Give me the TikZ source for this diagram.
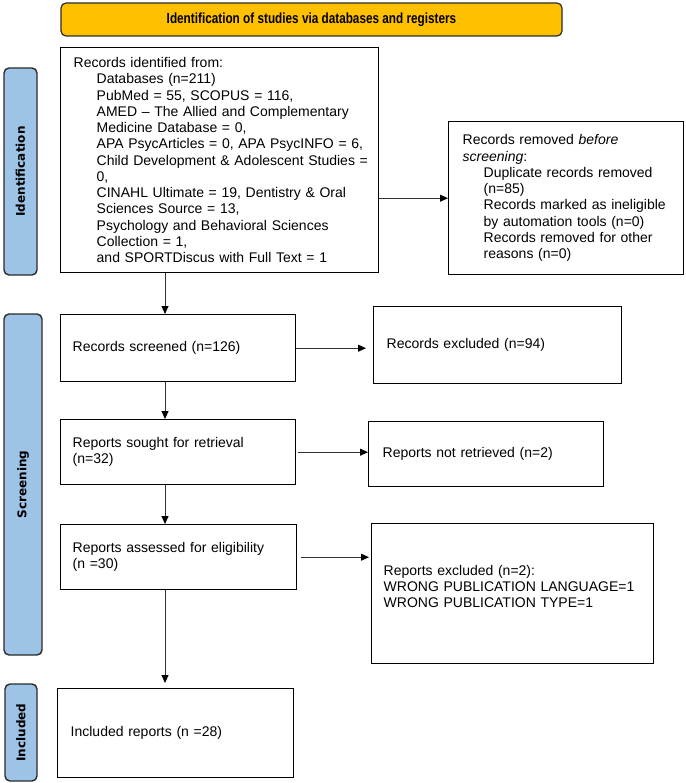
\documentclass[tikz,border=0pt]{standalone}
\usepackage{fontspec}
\usepackage{graphicx}
\setmainfont{Liberation Sans}
\newfontfamily\sidefont{DejaVu Sans}
\usetikzlibrary{arrows.meta,calc}
\definecolor{bannerfill}{HTML}{FFC000}
\definecolor{sidefill}{HTML}{9DC3E6}
\definecolor{edgecol}{HTML}{2B2B2B}
\newcommand{\ind}{\hspace*{23pt}}
\newcommand{\indr}{\hspace*{21pt}}
\begin{document}
\begin{tikzpicture}[x=1pt,y=-1pt,
  box/.style={draw=black, line width=1.4pt, rectangle, anchor=north west, align=left,
    font=\fontsize{14}{16.25}\selectfont, inner ysep=0pt},
  side/.style={draw=edgecol, fill=sidefill, line width=1.4pt, rounded corners=5pt,
    rotate=90, inner sep=0pt, font=\sidefont\bfseries\fontsize{12}{14}\selectfont},
  banner/.style={draw=edgecol, fill=bannerfill, line width=1.2pt, rounded corners=5pt,
    inner sep=0pt, font=\fontsize{14}{16}\selectfont\bfseries},
  arr/.style={draw=black!80, line width=0.9pt, -{Triangle[length=8pt,width=7pt,black]}}]
\useasboundingbox (0,0) rectangle (685,783);

% banner
\node[banner, minimum width=501pt, minimum height=33pt] (ban) at (311.5,19.5)
  {\scalebox{0.84}[1.05]{Identification of studies via databases and registers}};

% side bars
\node[side, minimum width=207pt, minimum height=33pt] (sid) at (20.5,171.5) {Identification};
\node[side, minimum width=341pt, minimum height=38pt] (sscr) at (23,484.5) {Screening};
\node[side, minimum width=97pt, minimum height=32pt] (sinc) at (21,732.5) {Included};

% boxes
\node[box, minimum width=318pt, minimum height=225pt, text width=292pt, inner xsep=13pt] (rec) at (60,47)
  {Records identified from:\\
   \ind Databases (n=211)\\
   \ind PubMed = 55, SCOPUS = 116,\\
   \ind AMED -- The Allied and Complementary\\
   \ind Medicine Database = 0,\\
   \ind APA PsycArticles = 0, APA PsycINFO = 6,\\
   \ind\mbox{Child Development \& Adolescent Studies =}\\
   \ind 0,\\
   \ind CINAHL Ultimate = 19, Dentistry \& Oral\\
   \ind Sciences Source = 13,\\
   \ind Psychology and Behavioral Sciences\\
   \ind Collection = 1,\\
   \ind and SPORTDiscus with Full Text = 1};

\node[box, minimum width=235pt, minimum height=153pt, text width=207pt, inner xsep=14pt] (rem) at (448,121)
  {Records removed \textit{before}\\
   \textit{screening}:\\
   \indr Duplicate records removed\\
   \indr (n=85)\\
   \indr Records marked as ineligible\\
   \indr by automation tools (n=0)\\
   \indr Records removed for other\\
   \indr reasons (n=0)};

\node[box, minimum width=235pt, minimum height=67pt, text width=211pt, inner xsep=12pt] (scr) at (60,314)
  {Records screened (n=126)};
\node[box, minimum width=248pt, minimum height=77pt, text width=222pt, inner xsep=13pt] (exc) at (373,306)
  {Records excluded (n=94)};

\node[box, minimum width=235pt, minimum height=65pt, text width=211pt, inner xsep=12pt] (sou) at (60,419)
  {Reports sought for retrieval\\(n=32)};
\node[box, minimum width=235pt, minimum height=65pt, text width=207pt, inner xsep=14pt] (nre) at (368,421)
  {Reports not retrieved (n=2)};

\node[box, minimum width=236pt, minimum height=65pt, text width=212pt, inner xsep=12pt] (ass) at (60,524)
  {Reports assessed for eligibility\\(n =30)};
\node[box, minimum width=282pt, minimum height=140pt, text width=258pt, inner xsep=12pt] (ex2) at (371,523)
  {Reports excluded (n=2):\\
   WRONG PUBLICATION LANGUAGE=1\\
   WRONG PUBLICATION TYPE=1\rule[-15pt]{0pt}{0pt}};

\node[box, minimum width=236pt, minimum height=89pt, text width=210pt, inner xsep=13pt] (inc) at (57,688)
  {Included reports (n =28)};

% connectors
\coordinate (ax) at (165,0);
\draw[arr] (rec.east |- rem.west) -- (rem.west);
\draw[arr] (ax |- rec.south) -- (ax |- scr.north);
\draw[arr, shorten >=7pt] (scr.east) -- (scr.east -| exc.west);
\draw[arr] (ax |- scr.south) -- (ax |- sou.north);
\draw[arr, shorten <=2pt] (sou.east) -- (sou.east -| nre.west);
\draw[arr] (ax |- sou.south) -- (ax |- ass.north);
\draw[arr, shorten <=4pt, shorten >=2pt] (ass.east) -- (ass.east -| ex2.west);
\draw[arr, shorten >=5pt] (ax |- ass.south) -- (ax |- inc.north);
\end{tikzpicture}
\end{document}
